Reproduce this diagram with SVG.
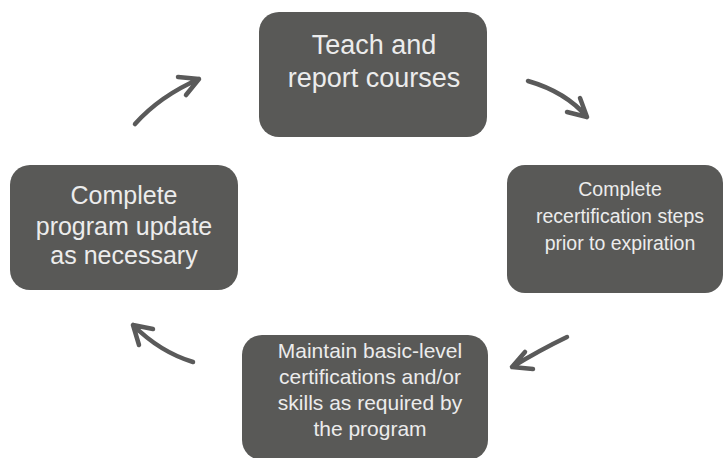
<svg xmlns="http://www.w3.org/2000/svg" width="725" height="458" viewBox="0 0 725 458">
<style>
.box{fill:#595957;}
.t{font-family:"Liberation Sans",Arial,sans-serif;fill:#ececec;text-anchor:middle;}
.c{fill:none;stroke:#5a5a5a;stroke-width:4.5;stroke-linecap:round;stroke-linejoin:round;}
</style>
<rect width="725" height="458" fill="#ffffff"/>
<g id="teach">
<rect class="box" x="259" y="12" width="228" height="125" rx="20"/>
<text class="t" font-size="27" x="374" y="54">Teach and</text>
<text class="t" font-size="27" x="374" y="87">report courses</text>
</g>
<g id="recert">
<rect class="box" x="507" y="165" width="216" height="128" rx="18"/>
<text class="t" font-size="19.5" x="620" y="196">Complete</text>
<text class="t" font-size="19.5" x="620" y="223">recertification steps</text>
<text class="t" font-size="19.5" x="620" y="250">prior to expiration</text>
</g>
<g id="maintain">
<rect class="box" x="242" y="335" width="246" height="125" rx="20"/>
<text class="t" font-size="21" x="370" y="358">Maintain basic-level</text>
<text class="t" font-size="21" x="370" y="384">certifications and/or</text>
<text class="t" font-size="21" x="370" y="410">skills as required by</text>
<text class="t" font-size="21" x="370" y="436">the program</text>
</g>
<g id="update">
<rect class="box" x="10" y="165" width="228" height="125" rx="20"/>
<text class="t" font-size="25" x="124" y="204">Complete</text>
<text class="t" font-size="25" x="124" y="235">program update</text>
<text class="t" font-size="25" x="124" y="264">as necessary</text>
</g>
<g id="connectors">
<path class="c" d="M135,124 Q160,96 199,79 M178,77 L199,79 L186,95"/>
<path class="c" d="M528,81 Q566,92 587,117 M567,112 L587,117 L580,98"/>
<path class="c" d="M567,337 Q540,350 512,367 M533,369 L512,367 L525,352"/>
<path class="c" d="M193,362 Q160,352 133,325 M153,329 L133,325 L139,345"/>
</g>
</svg>
